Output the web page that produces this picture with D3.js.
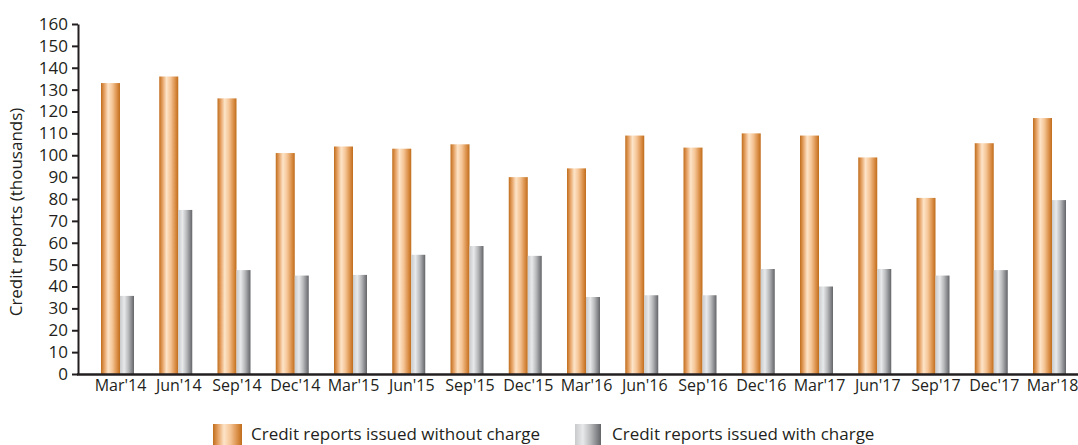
<!DOCTYPE html>
<html>
<head>
<meta charset="utf-8">
<script src="https://cdn.jsdelivr.net/npm/d3@7"></script>
<style>
  body { margin: 0; background: #fff; }
  svg text { font-family: "Open Sans", sans-serif; fill: #231f20; }
</style>
</head>
<body>
<div id="chart"></div>
<script>
const categories = ["Mar'14", "Jun'14", "Sep'14", "Dec'14", "Mar'15", "Jun'15", "Sep'15", "Dec'15", "Mar'16",
  "Jun'16", "Sep'16", "Dec'16", "Mar'17", "Jun'17", "Sep'17", "Dec'17", "Mar'18"];
const withoutCharge = [133, 136, 126, 101, 104, 103, 105, 90, 94, 109, 103.5, 110, 109, 99, 80.5, 105.5, 117];
const withCharge = [35.7, 75, 47.5, 45, 45.3, 54.5, 58.5, 54, 35.2, 36, 36, 48, 40, 48, 45, 47.5, 79.5];
const yTicks = d3.range(0, 161, 10);
const seriesNames = ["Credit reports issued without charge", "Credit reports issued with charge"];

const width = 1078;
const height = 445;

const svg = d3.select("#chart")
  .append("svg")
  .attr("width", width)
  .attr("height", height);

const defs = svg.append("defs");

const orangeGrad = defs.append("linearGradient").attr("id", "orange");
orangeGrad.append("stop").attr("offset", "0%").attr("stop-color", "#c06d1c");
orangeGrad.append("stop").attr("offset", "18%").attr("stop-color", "#e6a366");
orangeGrad.append("stop").attr("offset", "38%").attr("stop-color", "#fde4c8");
orangeGrad.append("stop").attr("offset", "60%").attr("stop-color", "#f5c596");
orangeGrad.append("stop").attr("offset", "85%").attr("stop-color", "#d98d45");
orangeGrad.append("stop").attr("offset", "100%").attr("stop-color", "#c06d1c");

const greyGrad = defs.append("linearGradient").attr("id", "grey");
greyGrad.append("stop").attr("offset", "0%").attr("stop-color", "#c9cacc");
greyGrad.append("stop").attr("offset", "30%").attr("stop-color", "#e8e9ea");
greyGrad.append("stop").attr("offset", "60%").attr("stop-color", "#b8b9bb");
greyGrad.append("stop").attr("offset", "100%").attr("stop-color", "#646569");

const y = d3.scaleLinear().domain([0, 160]).range([374, 24]);
const x = d3.scalePoint().domain(categories).range([120, 1052]);

const orangeW = 19;
const greyW = 14;

// bars
svg.append("g")
  .selectAll("rect")
  .data(withoutCharge)
  .enter()
  .append("rect")
  .attr("x", (d, i) => x(categories[i]) - orangeW)
  .attr("y", (d) => y(d))
  .attr("width", orangeW)
  .attr("height", (d) => y(0) - y(d))
  .attr("fill", "url(#orange)");

svg.append("g")
  .selectAll("rect")
  .data(withCharge)
  .enter()
  .append("rect")
  .attr("x", (d, i) => x(categories[i]))
  .attr("y", (d) => y(d))
  .attr("width", greyW)
  .attr("height", (d) => y(0) - y(d))
  .attr("fill", "url(#grey)");

// y axis
const yAxis = svg.append("g")
  .attr("transform", "translate(78,0)")
  .call(d3.axisLeft(y).tickValues(yTicks).tickSize(6).tickPadding(4).tickSizeOuter(0));
yAxis.select(".domain").attr("stroke", "#231f20").attr("stroke-width", 2);
yAxis.selectAll(".tick line").attr("stroke", "#231f20").attr("stroke-width", 2);
yAxis.selectAll("text").style("font-size", "17px").attr("fill", "#231f20");

// x axis
const xAxis = svg.append("g")
  .attr("transform", "translate(0,374)")
  .call(d3.axisBottom(x).tickSize(0).tickPadding(6));
xAxis.select(".domain").remove();
xAxis.selectAll("text").style("font-size", "16px").attr("fill", "#231f20");
svg.append("line")
  .attr("x1", 77).attr("x2", width)
  .attr("y1", 374.5).attr("y2", 374.5)
  .attr("stroke", "#231f20")
  .attr("stroke-width", 2.5);

// y label
svg.append("text")
  .attr("transform", "translate(22,212) rotate(-90)")
  .attr("text-anchor", "middle")
  .style("font-size", "17px")
  .text("Credit reports (thousands)");

// legend
const legend = svg.append("g");
const legendX = [213, 575];
const legendFill = ["url(#orange)", "url(#grey)"];
legend.selectAll("rect")
  .data(seriesNames)
  .enter()
  .append("rect")
  .attr("x", (d, i) => legendX[i])
  .attr("y", 424)
  .attr("width", (d, i) => i === 0 ? 29 : 26)
  .attr("height", 22)
  .attr("fill", (d, i) => legendFill[i]);
legend.selectAll("text")
  .data(seriesNames)
  .enter()
  .append("text")
  .attr("x", (d, i) => legendX[i] + (i === 0 ? 38 : 37))
  .attr("y", 440)
  .style("font-size", "17px")
  .text((d) => d);
</script>
</body>
</html>
